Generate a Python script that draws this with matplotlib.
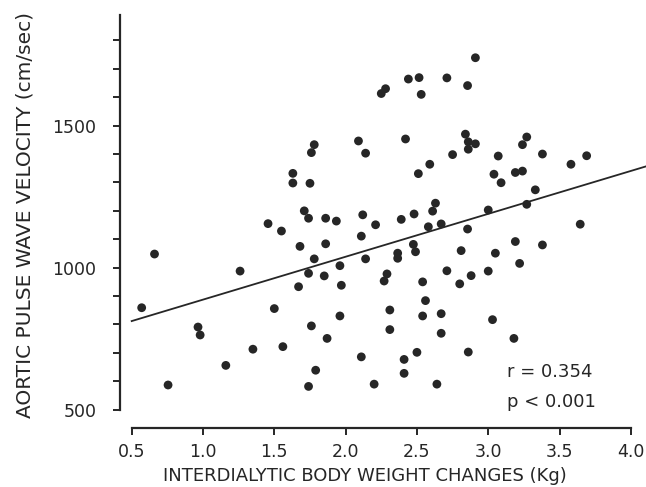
import numpy as np
import matplotlib
matplotlib.use("Agg")
import matplotlib.pyplot as plt

# weight change (kg) vs aortic PWV (cm/sec)
weight_change = [0.57, 0.66, 0.755, 0.965, 0.98, 1.16, 1.26, 1.35, 1.456, 1.50,
                 1.55, 1.56, 1.63, 1.63, 1.67, 1.68, 1.71, 1.74, 1.74, 1.74,
                 1.75, 1.76, 1.76, 1.78, 1.78, 1.79, 1.85, 1.86, 1.86, 1.87,
                 1.935, 1.96, 1.96, 1.97, 2.09, 2.11, 2.11, 2.12, 2.14, 2.14,
                 2.20, 2.21, 2.25, 2.28, 2.27, 2.29, 2.31, 2.31, 2.365, 2.365,
                 2.39, 2.41, 2.41, 2.42, 2.44, 2.475, 2.48, 2.49, 2.50, 2.51,
                 2.515, 2.53, 2.54, 2.54, 2.56, 2.58, 2.59, 2.61, 2.63, 2.64,
                 2.67, 2.67, 2.67, 2.71, 2.71, 2.75, 2.80, 2.81, 2.84, 2.855,
                 2.855, 2.86, 2.86, 2.86, 2.88, 2.91, 2.91, 3.00, 3.00, 3.03,
                 3.04, 3.05, 3.07, 3.09, 3.18, 3.19, 3.19, 3.22, 3.24, 3.24,
                 3.27, 3.27, 3.33, 3.38, 3.38, 3.58, 3.645, 3.69]
pwv = [859, 1048, 587, 791, 763, 656, 988, 713, 1155, 856,
       1129, 722, 1332, 1298, 933, 1075, 1200, 1174, 980, 582,
       1297, 1405, 795, 1433, 1031, 639, 971, 1174, 1084, 751,
       1164, 1007, 830, 938, 1446, 1111, 686, 1186, 1403, 1031,
       590, 1151, 1613, 1630, 953, 978, 851, 782, 1051, 1033,
       1170, 677, 628, 1453, 1664, 1082, 1189, 1056, 702, 1331,
       1669, 1610, 950, 830, 884, 1144, 1364, 1199, 1227, 590,
       1154, 838, 769, 1668, 989, 1398, 943, 1060, 1470, 1641,
       1136, 1443, 1417, 703, 972, 1739, 1436, 1203, 988, 817,
       1329, 1051, 1393, 1299, 751, 1335, 1092, 1015, 1433, 1340,
       1460, 1223, 1274, 1400, 1080, 1364, 1153, 1394]

# regression line as drawn (intercept at 0.5 kg, slope per kg)
line_x = [0.5, 4.2]
line_intercept = 812
line_slope = 151

r_text = "r = 0.354"
p_text = "p < 0.001"

ink = "#262626"
plt.rcParams['font.family'] = ['DejaVu Sans']

fig = plt.figure(figsize=(6.46, 4.87), dpi=100)
ax = fig.add_axes([120 / 646, 1 - 428 / 487, 512 / 646, 416 / 487])

ax.scatter(weight_change, pwv, s=40, color=ink, edgecolors='none', zorder=3)

lx = np.array(line_x)
ly = line_intercept + line_slope * (lx - 0.5)
ax.plot(lx, ly, color=ink, lw=1.3, clip_on=False)

ax.set_xlim(0.418, 4.008)
ax.set_ylim(435.6, 1900)

for s in ['top', 'right']:
    ax.spines[s].set_visible(False)
ax.spines['left'].set_bounds(500, 1890)
ax.spines['bottom'].set_bounds(0.5, 4.0)
for s in ['left', 'bottom']:
    ax.spines[s].set_linewidth(1.6)
    ax.spines[s].set_color(ink)

ax.set_xticks(np.arange(0.5, 4.01, 0.5))
ax.set_xticklabels([f"{v:.1f}" for v in np.arange(0.5, 4.01, 0.5)])
ax.set_yticks([500, 1000, 1500])
ax.set_yticks(np.arange(500, 1801, 100), minor=True)
ax.tick_params(axis='y', which='both', length=5, width=1.4, color=ink,
               direction='out')
ax.tick_params(axis='y', which='major', pad=12, labelsize=12.5, labelcolor=ink)
ax.tick_params(axis='x', length=5, width=1.4, color=ink, direction='out',
               pad=6, labelsize=12.5, labelcolor=ink)

fig.text(25 / 646, 1 - 214.5 / 487, "AORTIC PULSE WAVE VELOCITY (cm/sec)",
         rotation=90, ha='center', va='center', fontsize=14.5, color=ink)
fig.text(365 / 646, 1 - 476 / 487, "INTERDIALYTIC BODY WEIGHT CHANGES (Kg)",
         ha='center', va='center', fontsize=13, color=ink)

fig.text(506.7 / 646, 1 - 377 / 487, r_text, ha='left', va='baseline',
         fontsize=13, color=ink)
fig.text(506.7 / 646, 1 - 407 / 487, p_text, ha='left', va='baseline',
         fontsize=13, color=ink)

fig.savefig("out.png", dpi=100)
